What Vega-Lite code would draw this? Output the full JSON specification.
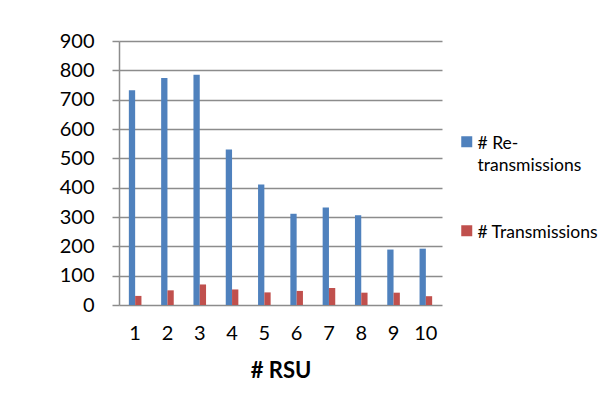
{
  "$schema": "https://vega.github.io/schema/vega-lite/v6.json",
  "autosize": "none",
  "width": 323,
  "height": 264,
  "padding": {"left": 119, "top": 41, "right": 170, "bottom": 114},
  "background": "white",
  "data": {
    "values": [
      {"rsu": 1, "series": "# Re-transmissions", "value": 732},
      {"rsu": 2, "series": "# Re-transmissions", "value": 774},
      {"rsu": 3, "series": "# Re-transmissions", "value": 785},
      {"rsu": 4, "series": "# Re-transmissions", "value": 530},
      {"rsu": 5, "series": "# Re-transmissions", "value": 411},
      {"rsu": 6, "series": "# Re-transmissions", "value": 311},
      {"rsu": 7, "series": "# Re-transmissions", "value": 332},
      {"rsu": 8, "series": "# Re-transmissions", "value": 306},
      {"rsu": 9, "series": "# Re-transmissions", "value": 189},
      {"rsu": 10, "series": "# Re-transmissions", "value": 192},
      {"rsu": 1, "series": "# Transmissions", "value": 31},
      {"rsu": 2, "series": "# Transmissions", "value": 50},
      {"rsu": 3, "series": "# Transmissions", "value": 70},
      {"rsu": 4, "series": "# Transmissions", "value": 53},
      {"rsu": 5, "series": "# Transmissions", "value": 43},
      {"rsu": 6, "series": "# Transmissions", "value": 48},
      {"rsu": 7, "series": "# Transmissions", "value": 58},
      {"rsu": 8, "series": "# Transmissions", "value": 42},
      {"rsu": 9, "series": "# Transmissions", "value": 42},
      {"rsu": 10, "series": "# Transmissions", "value": 30}
    ]
  },
  "mark": {"type": "bar"},
  "encoding": {
    "x": {
      "field": "rsu",
      "type": "ordinal",
      "scale": {"paddingInner": 0.61, "paddingOuter": 0.305},
      "axis": {
        "title": "# RSU",
        "labelAngle": 0,
        "domain": false,
        "ticks": false,
        "tickSize": 0,
        "labelPadding": 18,
        "labelFont": "Lato",
        "labelFontSize": 20,
        "labelColor": "#000000",
        "titleFont": "Lato",
        "titleFontSize": 22,
        "titleFontWeight": "bold",
        "titleColor": "#000000",
        "titlePadding": 17
      }
    },
    "xOffset": {"field": "series", "type": "nominal", "scale": {"paddingInner": 0, "paddingOuter": 0}},
    "y": {
      "field": "value",
      "type": "quantitative",
      "scale": {"domain": [0, 900], "nice": false},
      "axis": {
        "title": null,
        "values": [0, 100, 200, 300, 400, 500, 600, 700, 800, 900],
        "grid": true,
        "gridColor": "#8c8c8c",
        "gridWidth": 1.5,
        "gridOpacity": 1,
        "domainColor": "#8c8c8c",
        "domainWidth": 1.5,
        "tickColor": "#8c8c8c",
        "tickWidth": 1.5,
        "tickSize": 7,
        "labelPadding": 18,
        "labelFont": "Lato",
        "labelFontSize": 20,
        "labelColor": "#000000"
      }
    },
    "color": {
      "field": "series",
      "type": "nominal",
      "scale": {"domain": ["# Re-transmissions", "# Transmissions"], "range": ["#4F81BD", "#C0504D"]},
      "legend": {
        "title": null,
        "orient": "none",
        "legendX": 339,
        "legendY": 92,
        "symbolType": "square",
        "symbolSize": 121,
        "symbolStrokeWidth": 0,
        "symbolOpacity": 1,
        "labelFont": "Lato",
        "labelFontSize": 17.5,
        "labelColor": "#000000",
        "labelOffset": 2,
        "labelLimit": 300,
        "labelBaseline": "top",
        "labelExpr": "datum.label == '# Re-transmissions' ? ['# Re-', 'transmissions'] : datum.label",
        "rowPadding": 47,
        "encode": {"labels": {"update": {"dy": {"value": -7}, "lineHeight": {"value": 22}}}}
      }
    }
  },
  "config": {
    "view": {"stroke": null}
  }
}
